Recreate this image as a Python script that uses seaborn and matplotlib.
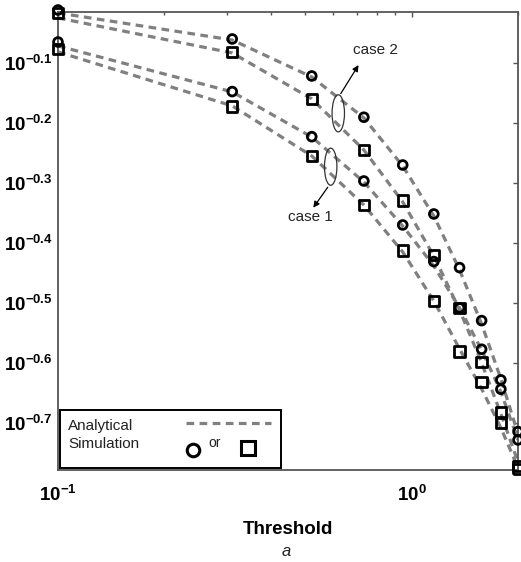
import matplotlib
matplotlib.use("Agg")
import matplotlib.pyplot as plt
import numpy as np
import pandas as pd
import seaborn as sns
from matplotlib.patches import Ellipse, Rectangle
from matplotlib.lines import Line2D
from matplotlib.ticker import FixedLocator, FixedFormatter, LogLocator, NullLocator, NullFormatter

# Detection threshold values
threshold = [0.1, 0.311, 0.522, 0.733, 0.944, 1.156, 1.367, 1.578, 1.789, 2.0]

# Analytical curves (dashed)
analytical_case2_a = [0.9635, 0.8685, 0.7536, 0.6440, 0.5355, 0.4420, 0.3593, 0.2920, 0.2365, 0.1915]
analytical_case2_b = [0.9452, 0.8264, 0.6928, 0.5694, 0.4665, 0.3791, 0.3082, 0.2515, 0.2068, 0.1720]
analytical_case1_a = [0.8489, 0.7116, 0.5985, 0.5036, 0.4253, 0.3649, 0.3106, 0.2643, 0.2250, 0.1871]
analytical_case1_b = [0.8296, 0.6744, 0.5565, 0.4610, 0.3850, 0.3190, 0.2653, 0.2276, 0.1960, 0.1681]

# Simulation results
simulation_case2_circle = [0.9745, 0.8719, 0.7565, 0.6457, 0.5375, 0.4454, 0.3625, 0.2958, 0.2356, 0.1932]
simulation_case2_square = [0.9634, 0.8286, 0.6928, 0.5694, 0.4688, 0.3806, 0.3106, 0.2522, 0.2078, 0.1693]
simulation_case1_circle = [0.8619, 0.7125, 0.5992, 0.5055, 0.4270, 0.3710, 0.3106, 0.2650, 0.2273, 0.1871]
simulation_case1_square = [0.8390, 0.6727, 0.5565, 0.4610, 0.3870, 0.3190, 0.2626, 0.2335, 0.2000, 0.1674]

ytick_exponents = [-0.7, -0.6, -0.5, -0.4, -0.3, -0.2, -0.1]
xtick_values = [0.1, 1.0]
xtick_labels = [r"$\mathbf{10^{-1}}$", r"$\mathbf{10^{0}}$"]

sns.set_theme(style="white")
plt.rcParams["font.family"] = ["Liberation Sans", "DejaVu Sans"]
plt.rcParams["mathtext.fontset"] = "custom"
plt.rcParams["mathtext.rm"] = "Liberation Sans:bold"
plt.rcParams["mathtext.bf"] = "Liberation Sans:bold"
plt.rcParams["mathtext.it"] = "Liberation Sans:bold"

fig = plt.figure(figsize=(5.21, 5.62), dpi=100)
ax = fig.add_axes([58 / 521, 1 - 470 / 562, 460 / 521, 458 / 562])

line_gray = "#808080"
dash = (0, (2.4, 1.7))

ana = pd.DataFrame({
    "threshold": threshold * 4,
    "value": analytical_case2_a + analytical_case2_b + analytical_case1_a + analytical_case1_b,
    "curve": ["c2a"] * 10 + ["c2b"] * 10 + ["c1a"] * 10 + ["c1b"] * 10,
})
for name, grp in ana.groupby("curve", sort=False):
    sns.lineplot(data=grp, x="threshold", y="value", ax=ax, color=line_gray,
                 linewidth=2.3, linestyle=dash, estimator=None, sort=False,
                 legend=False, zorder=2)

sim_sets = [
    (simulation_case2_circle, "o", 40),
    (simulation_case2_square, "s", 55),
    (simulation_case1_circle, "o", 40),
    (simulation_case1_square, "s", 55),
]
for vals, mk, size in sim_sets:
    sns.scatterplot(x=threshold, y=vals, ax=ax, marker=mk, s=size,
                    facecolor="none", edgecolor="black", linewidth=2.0,
                    clip_on=False, zorder=4, legend=False)

ax.set_xscale("log")
ax.set_yscale("log")
ax.set_xlim(0.1, 2.0)
ax.set_ylim(0.1667, 0.967)

ax.xaxis.set_major_locator(FixedLocator(xtick_values))
ax.xaxis.set_major_formatter(FixedFormatter(xtick_labels))
ax.xaxis.set_minor_locator(LogLocator(base=10, subs=np.arange(2, 10)))
ax.xaxis.set_minor_formatter(NullFormatter())

ax.yaxis.set_major_locator(FixedLocator([10 ** e for e in ytick_exponents]))
ax.yaxis.set_major_formatter(FixedFormatter([r"$\mathbf{10^{%g}}$" % e for e in ytick_exponents]))
ax.yaxis.set_minor_locator(NullLocator())

ax.tick_params(axis="both", which="both", direction="in", top=True, right=True,
               color="#555555", width=1.0)
ax.tick_params(axis="both", which="major", length=3.5, labelsize=13.5, labelcolor="black")
ax.tick_params(axis="both", which="minor", length=2.5)
ax.tick_params(axis="x", which="major", pad=11)
ax.tick_params(axis="y", which="major", pad=4)

for sp in ax.spines.values():
    sp.set_color("#555555")
    sp.set_linewidth(1.3)

ax.set_xlabel("Threshold", fontsize=13.5, fontweight="bold", color="black")
ax.xaxis.set_label_coords(0.499, -0.111)
ax.set_ylabel("")
fig.text(286 / 521, 1 - 552 / 562, "a", style="italic", ha="center", va="center",
         fontsize=12, color="#222222")

# Case annotations
for cx, cy in [(0.6093, 0.7788), (0.5928, 0.6622)]:
    ax.add_patch(Ellipse((cx, cy), 0.027, 0.081, transform=ax.transAxes,
                         fill=False, edgecolor="#333333", linewidth=0.9, zorder=5))
ax.annotate("", xy=(0.6565, 0.8893), xytext=(0.6115, 0.8166), xycoords="axes fraction",
            arrowprops=dict(arrowstyle="-|>", color="black", lw=0.9, mutation_scale=9))
ax.annotate("", xy=(0.5515, 0.5677), xytext=(0.5898, 0.6223), xycoords="axes fraction",
            arrowprops=dict(arrowstyle="-|>", color="black", lw=0.9, mutation_scale=9))
ax.text(0.6891, 0.917, "case 2", transform=ax.transAxes, ha="center", va="center",
        fontsize=11, color="#222222")
ax.text(0.5478, 0.5524, "case 1", transform=ax.transAxes, ha="center", va="center",
        fontsize=11, color="#222222")

# Legend box
ax.add_patch(Rectangle((0.004, 0.004), 0.481, 0.127, transform=ax.transAxes,
                       facecolor="white", edgecolor="black", linewidth=1.4, zorder=6))
ax.text(0.0217, 0.096, "Analytical", transform=ax.transAxes, ha="left", va="center",
        fontsize=11, color="#222222", zorder=7)
ax.text(0.0217, 0.0568, "Simulation", transform=ax.transAxes, ha="left", va="center",
        fontsize=11, color="#222222", zorder=7)
ax.add_line(Line2D([0.2776, 0.4637], [0.1033, 0.1033], transform=ax.transAxes,
                   color=line_gray, linewidth=2.3, linestyle=dash, zorder=7))
ax.add_line(Line2D([0.2928], [0.0437], transform=ax.transAxes, marker="o",
                   markersize=9, markerfacecolor="none", markeredgecolor="black",
                   markeredgewidth=2.2, zorder=7))
ax.text(0.3413, 0.0580, "or", transform=ax.transAxes, ha="center", va="center",
        fontsize=10, color="#222222", zorder=7)
ax.add_line(Line2D([0.4138], [0.0487], transform=ax.transAxes, marker="s",
                   markersize=9.5, markerfacecolor="none", markeredgecolor="black",
                   markeredgewidth=2.2, zorder=7))

fig.savefig("out.png", dpi=100)
